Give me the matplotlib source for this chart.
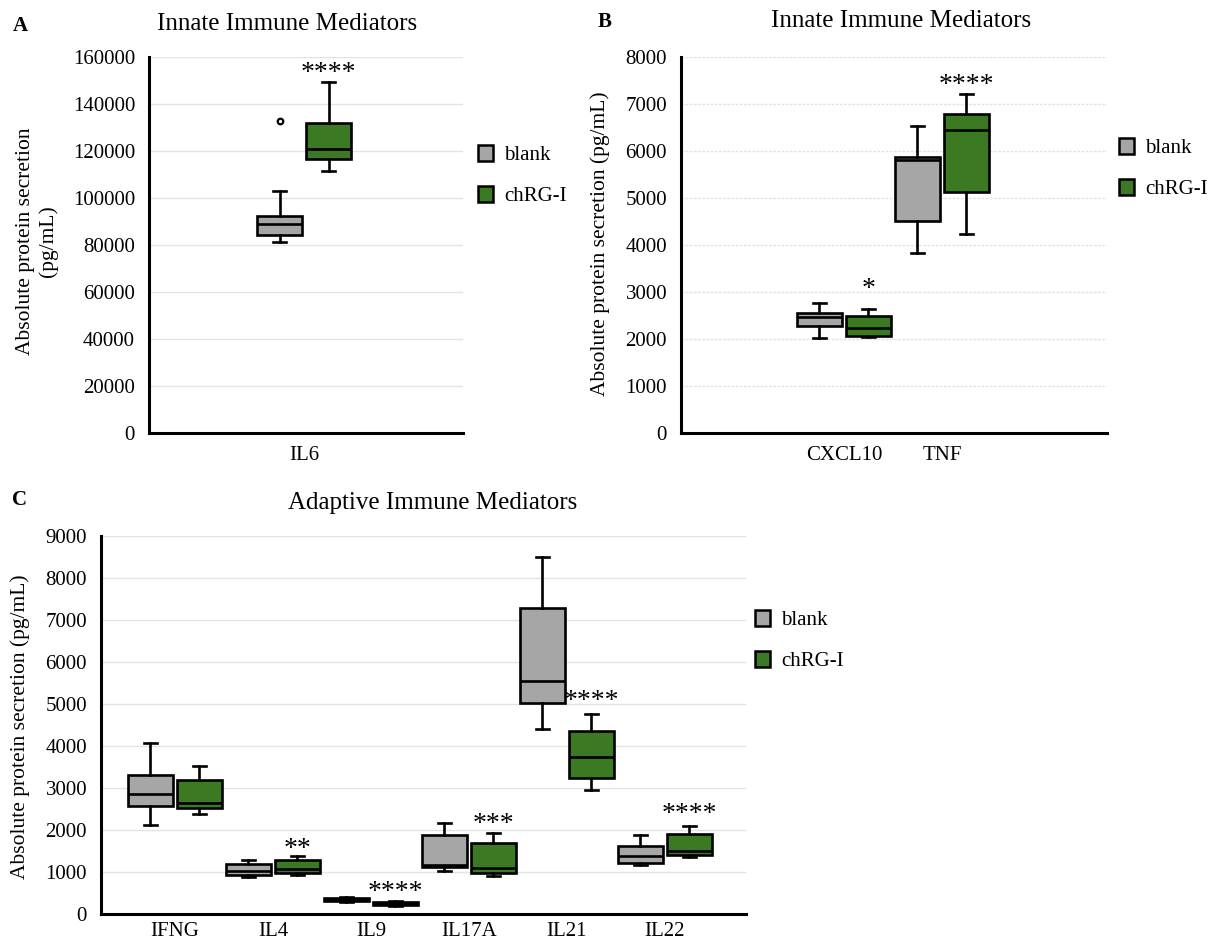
import matplotlib
matplotlib.use("Agg")
import matplotlib.pyplot as plt
from matplotlib.patches import Patch

plt.rcParams['font.family'] = 'serif'
plt.rcParams['font.serif'] = ['Liberation Serif', 'DejaVu Serif']

# five-number summaries per box: [whisker low, Q1, median, Q3, whisker high]
a_cats = ['IL6']
a_blank = [[81300, 84100, 88800, 92500, 103100]]
a_blank_fliers = [[132900]]
a_chrg = [[111500, 116500, 121000, 131800, 149500]]
a_sig = ['****']
a_sig_y = [150300]

b_cats = ['CXCL10', 'TNF']
b_blank = [[2020, 2277, 2470, 2547, 2760],
           [3823, 4504, 5809, 5866, 6538]]
b_chrg = [[2036, 2064, 2234, 2489, 2632],
          [4234, 5121, 6440, 6794, 7206]]
b_sig = ['*', '****']
b_sig_y = [2910, 7250]

c_cats = ['IFNG', 'IL4', 'IL9', 'IL17A', 'IL21', 'IL22']
c_blank = [[2111, 2571, 2865, 3310, 4079],
           [880, 920, 1030, 1190, 1280],
           [290, 310, 350, 390, 410],
           [1024, 1127, 1167, 1889, 2159],
           [4397, 5032, 5556, 7278, 8508],
           [1159, 1206, 1381, 1627, 1889]]
c_chrg = [[2381, 2516, 2651, 3190, 3516],
          [920, 980, 1080, 1290, 1370],
          [190, 215, 245, 275, 320],
          [912, 968, 1088, 1698, 1937],
          [2952, 3238, 3746, 4349, 4754],
          [1365, 1397, 1500, 1905, 2095]]
c_sig = ['', '**', '****', '***', '****', '****']
c_sig_y = [0, 1380, 357, 1976, 4905, 2214]

GRAY = '#a6a6a6'
GREEN = '#3b7a23'
W, H = 1211, 947

fig = plt.figure(figsize=(W / 100, H / 100), dpi=100)


def px_axes(left, top, right, bottom):
    return fig.add_axes([left / W, 1 - bottom / H, (right - left) / W, (bottom - top) / H])


def make_stats(summaries, fliers=None):
    out = []
    for i, (lo, q1, med, q3, hi) in enumerate(summaries):
        out.append(dict(whislo=lo, q1=q1, med=med, q3=q3, whishi=hi,
                        fliers=fliers[i] if fliers else []))
    return out


def draw_boxes(ax, stats, positions, color):
    lw = 1.9
    ax.bxp(stats, positions=positions, widths=0.46, capwidths=0.13,
           patch_artist=True, manage_ticks=False, showfliers=True,
           boxprops=dict(facecolor=color, edgecolor='black', linewidth=lw),
           medianprops=dict(color='black', linewidth=lw),
           whiskerprops=dict(color='black', linewidth=lw),
           capprops=dict(color='black', linewidth=lw),
           flierprops=dict(marker='o', markersize=4, markerfacecolor='white',
                           markeredgecolor='black', markeredgewidth=1.6))


def style_axes(ax, cats, xlim, ymax, ystep, grid_ls):
    ax.set_xlim(*xlim)
    ax.set_ylim(0, ymax)
    ax.set_yticks(range(0, ymax + 1, ystep))
    ax.set_xticks(range(len(cats)))
    ax.set_xticklabels(cats)
    ax.tick_params(axis='both', length=0, labelsize=15)
    ax.tick_params(axis='y', pad=10)
    ax.tick_params(axis='x', pad=9)
    for s in ['top', 'right']:
        ax.spines[s].set_visible(False)
    for s in ['left', 'bottom']:
        ax.spines[s].set_linewidth(2.2)
    ax.grid(axis='y', color='#e3e3e3', linewidth=1, linestyle=grid_ls)
    ax.set_axisbelow(True)


def add_legend(ax, x, y):
    handles = [Patch(facecolor=GRAY, edgecolor='black', linewidth=1.8, label='blank'),
               Patch(facecolor=GREEN, edgecolor='black', linewidth=1.8, label='chRG-I')]
    ax.legend(handles=handles, loc='upper left', bbox_to_anchor=(x / W, 1 - y / H),
              bbox_transform=fig.transFigure, frameon=False, fontsize=15,
              handlelength=0.7, handleheight=0.8, handletextpad=0.55,
              borderpad=0, borderaxespad=0, labelspacing=1.0)


def add_stars(ax, xs, labels, ys):
    for x, lab, y in zip(xs, labels, ys):
        if lab:
            ax.text(x, y, lab, ha='center', va='baseline', fontsize=20)


off = 0.25

# Panel A
axA = px_axes(149, 57, 463, 433)
xa = list(range(len(a_cats)))
draw_boxes(axA, make_stats(a_blank, a_blank_fliers), [p - off for p in xa], GRAY)
draw_boxes(axA, make_stats(a_chrg), [p + off for p in xa], GREEN)
style_axes(axA, a_cats, (-1.582, 1.622), 160000, 20000, '-')
add_stars(axA, [p + off for p in xa], a_sig, a_sig_y)
axA.set_ylabel('Absolute protein secretion\n(pg/mL)', fontsize=15.5, linespacing=1.2)
axA.yaxis.set_label_coords(-0.29, 0.51)
add_legend(axA, 478, 145)

# Panel B
axB = px_axes(681, 57, 1107, 433)
xb = list(range(len(b_cats)))
draw_boxes(axB, make_stats(b_blank), [p - off for p in xb], GRAY)
draw_boxes(axB, make_stats(b_chrg), [p + off for p in xb], GREEN)
style_axes(axB, b_cats, (-1.663, 2.684), 8000, 1000, (0, (2, 1)))
add_stars(axB, [p + off for p in xb], b_sig, b_sig_y)
axB.set_ylabel('Absolute protein secretion (pg/mL)', fontsize=15.5)
axB.yaxis.set_label_coords(-0.167, 0.503)
add_legend(axB, 1119, 138)

# Panel C
axC = px_axes(101, 536, 746, 914)
xc = list(range(len(c_cats)))
draw_boxes(axC, make_stats(c_blank), [p - off for p in xc], GRAY)
draw_boxes(axC, make_stats(c_chrg), [p + off for p in xc], GREEN)
style_axes(axC, c_cats, (-0.755, 5.827), 9000, 1000, '-')
axC.tick_params(axis='x', pad=6)
add_stars(axC, [p + off for p in xc], c_sig, c_sig_y)
axC.set_ylabel('Absolute protein secretion (pg/mL)', fontsize=15.5)
axC.yaxis.set_label_coords(-0.11, 0.496)
add_legend(axC, 755, 610)

# titles and panel letters
fig.text(287 / W, 1 - 24 / H, 'Innate Immune Mediators', ha='center', va='center', fontsize=18)
fig.text(901 / W, 1 - 21 / H, 'Innate Immune Mediators', ha='center', va='center', fontsize=18)
fig.text(433 / W, 1 - 503 / H, 'Adaptive Immune Mediators', ha='center', va='center', fontsize=18)
fig.text(13 / W, 1 - 26 / H, 'A', ha='left', va='center', fontsize=15, fontweight='bold')
fig.text(598 / W, 1 - 22 / H, 'B', ha='left', va='center', fontsize=15, fontweight='bold')
fig.text(12 / W, 1 - 500 / H, 'C', ha='left', va='center', fontsize=15, fontweight='bold')

fig.savefig('out.png', dpi=100)
